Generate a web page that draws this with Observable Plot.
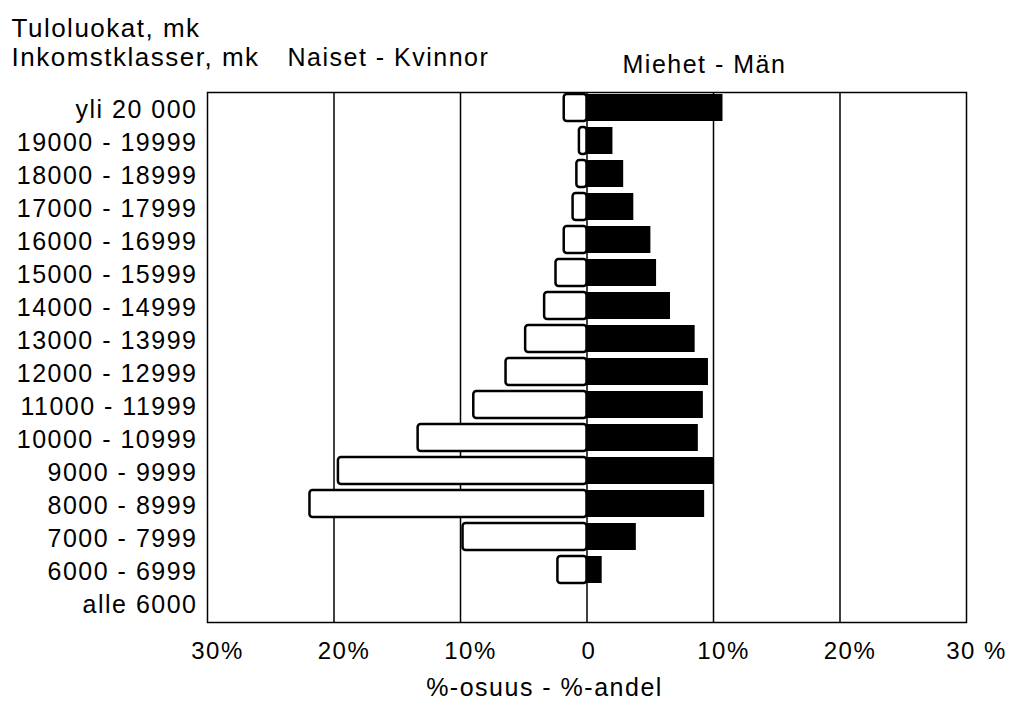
<!DOCTYPE html>
<html><head><meta charset="utf-8">
<script src="https://cdn.jsdelivr.net/npm/d3@7"></script>
<script src="https://cdn.jsdelivr.net/npm/@observablehq/plot@0.6"></script>
<style>body{margin:0;background:#fff}</style>
</head><body><div id="chart"></div>
<script>
const categories = ["yli 20 000","19000 - 19999","18000 - 18999","17000 - 17999","16000 - 16999","15000 - 15999","14000 - 14999","13000 - 13999","12000 - 12999","11000 - 11999","10000 - 10999","9000 - 9999","8000 - 8999","7000 - 7999","6000 - 6999","alle 6000"];
const women = [1.8, 0.6, 0.8, 1.1, 1.8, 2.45, 3.35, 4.85, 6.4, 8.95, 13.35, 19.65, 21.9, 9.8, 2.3, 0];
const men = [10.75, 2.05, 2.9, 3.7, 5.05, 5.5, 6.6, 8.55, 9.6, 9.2, 8.8, 10.0, 9.3, 3.9, 1.2, 0];
const xTicks = [-30, -20, -10, 0, 10, 20, 30];
const xTickLabels = ["30%", "20%", "10%", "0", "10%", "20%", "30 %"];
const gridLines = [-20, -10, 10, 20];
const titleLine1 = "Tuloluokat, mk";
const titleLine2 = "Inkomstklasser, mk";
const womenLabel = "Naiset - Kvinnor";
const menLabel = "Miehet - Män";
const xLabel = "%-osuus - %-andel";

const womenData = categories.map((c, i) => ({c, v: women[i]})).filter(d => d.v > 0);
const menData = categories.map((c, i) => ({c, v: men[i]})).filter(d => d.v > 0);
const fmt = d => xTickLabels[xTicks.indexOf(d)];

const chart = Plot.plot({
  width: 1009,
  height: 705,
  marginTop: 92,
  marginBottom: 83,
  marginLeft: 207,
  marginRight: 43,
  style: "font-family: 'Liberation Sans', Arial, sans-serif; letter-spacing: 1.5px; background: white; overflow: visible; color: black;",
  x: {domain: [-30, 30], axis: null},
  y: {domain: categories, paddingInner: 0.18, paddingOuter: 0.09, axis: null},
  marks: [
    Plot.ruleX(gridLines, {stroke: "black", strokeWidth: 1.5}),
    Plot.barX(womenData, {x1: d => -d.v, x2: 0, y: "c", fill: "white", stroke: "black", strokeWidth: 2.5, rx: 3, dy: -2}),
    Plot.barX(menData, {x1: 0, x2: "v", y: "c", fill: "black", dy: -2}),
    Plot.ruleX([0], {stroke: "black", strokeWidth: 1.5}),
    Plot.frame({stroke: "black", strokeWidth: 1.5}),
    Plot.axisY({tickSize: 0, tickPadding: 10, fontSize: 25, label: null, fill: "black", letterSpacing: "1.7px"}),
    Plot.axisX(xTicks.filter(d => d !== 0), {tickSize: 0, tickPadding: 19, fontSize: 24, tickFormat: fmt, label: null, dx: 10, fill: "black"}),
    Plot.axisX([0], {tickSize: 0, tickPadding: 19, fontSize: 24, tickFormat: fmt, label: null, dx: 2, fill: "black"}),
    Plot.text([titleLine1], {text: d => d, frameAnchor: "top-left", dx: -196, dy: -56, textAnchor: "start", lineAnchor: "bottom", fontSize: 26, fill: "black"}),
    Plot.text([titleLine2], {text: d => d, frameAnchor: "top-left", dx: -196, dy: -27, textAnchor: "start", lineAnchor: "bottom", fontSize: 26, fill: "black"}),
    Plot.text([womenLabel], {text: d => d, frameAnchor: "top-left", dx: 80, dy: -27, textAnchor: "start", lineAnchor: "bottom", fontSize: 25, fill: "black"}),
    Plot.text([menLabel], {text: d => d, frameAnchor: "top-left", dx: 415, dy: -20, textAnchor: "start", lineAnchor: "bottom", fontSize: 25, fill: "black"}),
    Plot.text([xLabel], {text: d => d, frameAnchor: "bottom-left", dx: 337, dy: 73, textAnchor: "middle", lineAnchor: "bottom", fontSize: 25, fill: "black", letterSpacing: "2px"})
  ]
});
document.getElementById("chart").appendChild(chart);
</script>
</body></html>
